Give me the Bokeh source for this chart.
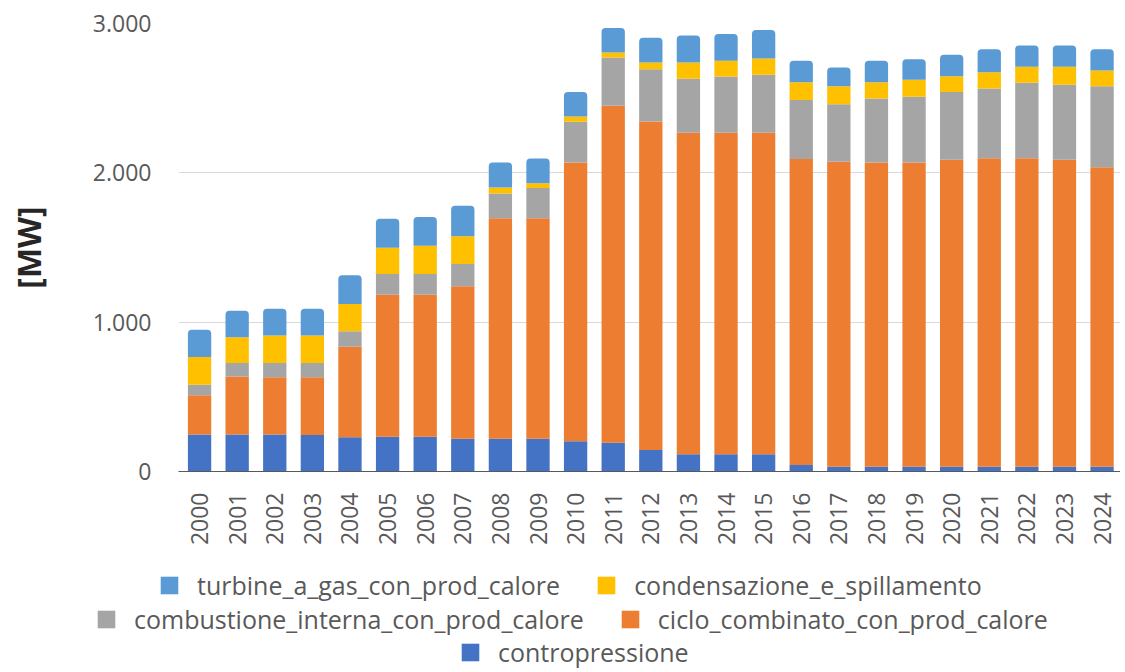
import math
from bokeh.plotting import figure
from bokeh.models import ColumnDataSource, FixedTicker, Legend, LegendItem, Range1d
from bokeh.embed import file_html
from bokeh.resources import INLINE

years = list(range(2000, 2025))
contropressione = [247, 247, 247, 244, 229, 232, 232, 219, 219, 219, 203, 192, 144,
                   115, 115, 115, 43, 32, 32, 32, 32, 32, 32, 32, 31]
ciclo_combinato_con_prod_calore = [263, 389, 384, 387, 606, 952, 952, 1021, 1477, 1477, 1867, 2257, 2200,
                                   2153, 2153, 2153, 2049, 2042, 2038, 2038, 2055, 2066, 2066, 2055, 2007]
combustione_interna_con_prod_calore = [71, 90, 95, 95, 104, 139, 139, 149, 165, 203, 272, 323, 349,
                                       362, 377, 388, 395, 386, 428, 439, 455, 466, 505, 503, 542]
condensazione_e_spillamento = [186, 173, 184, 184, 182, 176, 189, 187, 41, 32, 35, 33, 46,
                               109, 105, 109, 120, 119, 109, 114, 105, 109, 108, 121, 106]
turbine_a_gas_con_prod_calore = [183, 178, 180, 180, 193, 193, 193, 204, 168, 165, 165, 165, 165,
                                 181, 180, 192, 143, 127, 143, 138, 143, 154, 142, 142, 141]

series_keys = ["contropressione", "ciclo_combinato_con_prod_calore",
               "combustione_interna_con_prod_calore", "condensazione_e_spillamento",
               "turbine_a_gas_con_prod_calore"]
series_colors = ["#4472C4", "#ED7D31", "#A5A5A5", "#FFC000", "#5B9BD5"]
y_ticks = [0, 1000, 2000, 3000]
y_tick_labels = ["0", "1.000", "2.000", "3.000"]
y_axis_title = "[MW]"

src = ColumnDataSource(dict(
    year=years,
    contropressione=contropressione,
    ciclo_combinato_con_prod_calore=ciclo_combinato_con_prod_calore,
    combustione_interna_con_prod_calore=combustione_interna_con_prod_calore,
    condensazione_e_spillamento=condensazione_e_spillamento,
    turbine_a_gas_con_prod_calore=turbine_a_gas_con_prod_calore,
))

W = 1120
p = figure(width=W, height=548,
           x_range=Range1d(1999.44, 2024.49), y_range=Range1d(0, 3000),
           output_backend="svg", toolbar_location=None,
           min_border_left=178, min_border_right=0,
           min_border_top=23, min_border_bottom=70)
p.outline_line_color = None
p.background_fill_color = "white"
p.border_fill_color = "white"

renderers = p.vbar_stack(series_keys, x="year", width=0.62, source=src,
                         fill_color=series_colors, line_color=None)
top = renderers[-1]
if "border_radius" in top.glyph.properties():
    top.glyph.border_radius = (4, 4, 0, 0)

TXT = "#595959"
FONT = "Open Sans"

p.xgrid.grid_line_color = None
p.ygrid.grid_line_color = "#D9D9D9"
p.ygrid.grid_line_width = 1
p.ygrid.ticker = FixedTicker(ticks=y_ticks)

p.yaxis.ticker = FixedTicker(ticks=y_ticks)
p.yaxis.major_label_overrides = {t: l for t, l in zip(y_ticks, y_tick_labels)}
p.yaxis.axis_line_color = None
p.yaxis.major_tick_line_color = None
p.yaxis.minor_tick_line_color = None
p.yaxis.major_label_standoff = 21
p.yaxis.major_label_text_font = FONT
p.yaxis.major_label_text_font_size = "23px"
p.yaxis.major_label_text_color = TXT
p.yaxis.axis_label = y_axis_title
p.yaxis.axis_label_text_font = FONT
p.yaxis.axis_label_text_font_style = "bold"
p.yaxis.axis_label_text_font_size = "32px"
p.yaxis.axis_label_text_color = "#262626"
p.yaxis.axis_label_standoff = 40

p.xaxis.ticker = FixedTicker(ticks=years)
p.xaxis.major_label_overrides = {y: str(y) for y in years}
p.xaxis.major_label_orientation = math.pi / 2
p.xaxis.axis_line_color = "#595959"
p.xaxis.axis_line_width = 1
p.xaxis.major_tick_line_color = None
p.xaxis.minor_tick_line_color = None
p.xaxis.major_label_standoff = 15
p.xaxis.major_label_text_font = FONT
p.xaxis.major_label_text_font_size = "23px"
p.xaxis.major_label_text_color = TXT

# legend strip below the chart: a second root whose frame spans its full width
p2 = figure(width=W, height=122, x_range=Range1d(0, 1), y_range=Range1d(0, 1),
            output_backend="svg", toolbar_location=None,
            x_axis_location=None, y_axis_location=None,
            min_border_left=0, min_border_right=0, min_border_top=0, min_border_bottom=0)
p2.grid.visible = False
p2.outline_line_color = None
p2.background_fill_color = "white"
p2.border_fill_color = "white"

# same data drawn in p2, outside p2's visible range: used only as legend swatches
swatches = p2.vbar_stack(series_keys, x="year", width=0.62, source=src,
                         fill_color=series_colors, line_color=None)
swatch = dict(zip(series_keys, swatches))
for r in swatches:
    if "border_radius" in r.glyph.properties():
        r.glyph.border_radius = 3


def make_legend(keys, loc):
    items = [LegendItem(label=k, renderers=[swatch[k]]) for k in keys]
    return Legend(items=items, orientation="horizontal", location=loc,
                  padding=0, margin=0, spacing=35, label_standoff=17,
                  glyph_width=22, glyph_height=22, label_height=22,
                  border_line_alpha=0, background_fill_alpha=0,
                  label_text_font=FONT, label_text_font_size="25px",
                  label_text_color=TXT)


p2.add_layout(make_legend(["turbine_a_gas_con_prod_calore", "condensazione_e_spillamento"], (158, 68)), "center")
p2.add_layout(make_legend(["combustione_interna_con_prod_calore", "ciclo_combinato_con_prod_calore"], (95, 34)), "center")
p2.add_layout(make_legend(["contropressione"], (459, 1)), "center")

open("out.html", "w").write(file_html([p, p2], INLINE))
